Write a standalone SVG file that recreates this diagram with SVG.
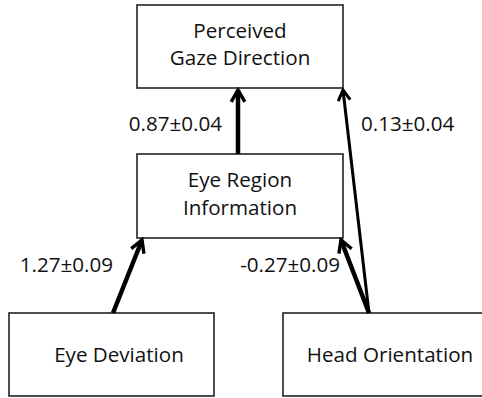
<svg xmlns="http://www.w3.org/2000/svg" width="482" height="398" viewBox="0 0 482 398">
<defs>
<style>
.box{fill:#fff;stroke:#222;stroke-width:1.6}
.t{font-family:"Open Sans","Noto Sans",sans-serif;font-size:20.6px;fill:#111}
.c{text-anchor:middle}
.e{text-anchor:end}
.thick{stroke:#000;stroke-width:4.5;fill:none}
.thin{stroke:#000;stroke-width:3;fill:none}
</style>
<marker id="ah" viewBox="0 0 10 10" refX="8" refY="5" markerWidth="3.8" markerHeight="3.8" orient="auto" markerUnits="strokeWidth">
<path d="M1,1 L8,5 L1,9" fill="none" stroke="#000" stroke-width="2"/>
</marker>
<marker id="ah2" viewBox="0 0 10 10" refX="8" refY="5" markerWidth="5" markerHeight="5" orient="auto" markerUnits="strokeWidth">
<path d="M1,1 L8,5 L1,9" fill="none" stroke="#000" stroke-width="2"/>
</marker>
</defs>
<rect width="482" height="398" fill="#fff"/>
<g id="perceived">
<rect class="box" x="137" y="5" width="206" height="83"/>
<text class="t c" x="240" y="38">Perceived</text>
<text class="t c" x="240" y="65">Gaze Direction</text>
</g>
<g id="eye-region">
<rect class="box" x="137" y="154" width="206" height="84"/>
<text class="t c" x="240" y="187">Eye Region</text>
<text class="t c" x="240" y="215">Information</text>
</g>
<g id="eye-deviation">
<rect class="box" x="9" y="313" width="205" height="83"/>
<text class="t c" x="119" y="362">Eye Deviation</text>
</g>
<g id="head-orientation">
<rect class="box" x="283" y="313" width="205" height="83"/>
<text class="t c" x="390" y="362">Head Orientation</text>
</g>
<g id="connectors">
<line class="thick" x1="238" y1="154" x2="238" y2="90" marker-end="url(#ah)"/>
<line class="thick" x1="113" y1="313" x2="142" y2="240" marker-end="url(#ah)"/>
<line class="thick" x1="369" y1="313" x2="341" y2="240" marker-end="url(#ah)"/>
<line class="thin" x1="369" y1="313" x2="343" y2="90" marker-end="url(#ah2)"/>
<text class="t e" x="222" y="131">0.87±0.04</text>
<text class="t" x="361" y="131">0.13±0.04</text>
<text class="t e" x="113" y="272">1.27±0.09</text>
<text class="t e" x="340" y="272">-0.27±0.09</text>
</g>
</svg>
